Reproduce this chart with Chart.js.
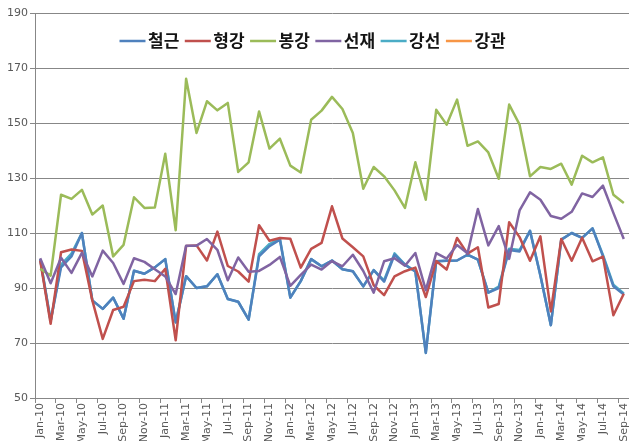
<!DOCTYPE html>
<html>
<head>
<meta charset="utf-8">
<script src="https://cdn.jsdelivr.net/npm/chart.js@4.4.1/dist/chart.umd.min.js"></script>
<style>
html,body{margin:0;padding:0;background:#ffffff;}
#wrap{width:629px;height:441px;position:relative;}
</style>
</head>
<body>
<div id="wrap"><canvas id="c" width="629" height="441"></canvas></div>
<script>
// ---- data ----
const categories = [
  'Jan-10','Feb-10','Mar-10','Apr-10','May-10','Jun-10','Jul-10','Aug-10','Sep-10','Oct-10','Nov-10','Dec-10',
  'Jan-11','Feb-11','Mar-11','Apr-11','May-11','Jun-11','Jul-11','Aug-11','Sep-11','Oct-11','Nov-11','Dec-11',
  'Jan-12','Feb-12','Mar-12','Apr-12','May-12','Jun-12','Jul-12','Aug-12','Sep-12','Oct-12','Nov-12','Dec-12',
  'Jan-13','Feb-13','Mar-13','Apr-13','May-13','Jun-13','Jul-13','Aug-13','Sep-13','Oct-13','Nov-13','Dec-13',
  'Jan-14','Feb-14','Mar-14','Apr-14','May-14','Jun-14','Jul-14','Aug-14','Sep-14'
];
const seriesNames = ['철근','형강','봉강','선재','강선','강관'];

const rebar = [100.5,78,97.5,101.5,110,85.5,82.4,86.5,78.8,96.3,95.2,97.5,
  100.5,77.5,94.3,90,90.6,95,86,85,78.5,101.5,105.2,107.6,
  86.5,92.5,100.5,97.9,100,96.8,96.1,90.6,96.5,92.3,102.1,98.5,
  96,66.4,99.7,99.9,100,102.1,100.3,88.3,90,103.8,103.3,110.8,
  94.5,76.5,107.6,110,108.2,111.7,101.6,90.6,87.6];
const sections = [100,77,103,104,103.5,85.5,71.5,82,83.2,92.5,93,92.5,
  97,71,105.3,105.5,100,110.5,98,96,92.3,112.8,107.2,108.2,
  107.9,97.4,104.2,106.4,119.7,108,104.8,101.5,91,87.4,94.2,96.1,
  97.4,86.7,99.8,96.7,108.2,102.5,104.8,82.9,84.2,113.9,108.5,99.9,
  108.8,81.5,107.8,99.9,108.3,99.7,101.4,80.1,87.9];
const bars = [97,94.5,123.9,122.4,125.7,116.7,120,101.5,105.7,123,119.1,119.3,
  138.8,111,166.1,146.4,157.9,154.6,157.3,132.2,135.7,154.2,140.7,144.3,
  134.5,132,151.2,154.5,159.5,155.1,146.4,126.1,134,130.6,125.5,119.1,
  135.7,122.1,154.8,149.4,158.5,141.7,143.3,139.3,129.7,156.7,149.4,130.6,
  134,133.3,135.2,127.6,138.1,135.7,137.5,123.9,120.9];
const wireRod = [100.8,91.7,101,95.5,102.8,94.2,103.6,99.1,91.5,100.8,99.5,96.8,
  94.2,87.8,105.4,105.4,107.8,103.9,92.8,101.1,95.9,96.2,98.4,101.3,
  90.8,94.8,98.5,96.7,99.8,97.9,102.1,96.2,88.3,99.7,100.8,98.1,
  102.7,89.2,102.7,100.7,105.6,102.6,118.7,105.5,112.5,100.6,118.2,124.8,
  122.1,116.2,115.2,117.7,124.4,123.1,127.2,117.3,107.8];
const steelWire = [100.5,78,98.5,102.5,110,85.5,82.4,86.5,78.8,96.3,95.2,97.5,
  100.5,77.5,94.3,90,90.6,95,86,85,78.5,102.3,106,108,
  86.5,92.5,100.5,97.9,100,96.8,96.1,90.6,96.5,92.8,102.6,98.5,
  96,66.4,99.7,99.9,100,102.1,100.3,88.3,90.5,104.3,103.8,110.8,
  94.5,76.5,107.6,110,108.2,111.7,102,91.2,88];
const steelPipe = [];

const yTicks = [50,70,90,110,130,150,170,190];

// ---- style ----
const colors = ['#4F81BD','#C0504D','#9BBB59','#8064A2','#4BACC6','#F79646'];
const drawOrder = [5,4,3,2,6,1];
const seriesData = [rebar, sections, bars, wireRod, steelWire, steelPipe];
const gridColor = '#878787';
const tickFont = {family: '"DejaVu Sans", sans-serif', size: 11};

const legendPlugin = {
  id: 'excelLegend',
  beforeDatasetsDraw(chart) {
    const ctx = chart.ctx;
    ctx.save();
    ctx.font = 'bold 17px "Noto Sans CJK KR", sans-serif';
    ctx.textBaseline = 'middle';
    ctx.textAlign = 'left';
    let x = 119.5;
    const y = 41;
    chart.data.datasets.forEach(ds => {
      ctx.strokeStyle = ds.borderColor;
      ctx.lineWidth = 2.5;
      ctx.beginPath();
      ctx.moveTo(x, y);
      ctx.lineTo(x + 26, y);
      ctx.stroke();
      ctx.fillStyle = '#141414';
      ctx.fillText(ds.label, x + 28.5, y);
      x += 28.5 + ctx.measureText(ds.label).width + 5.5;
    });
    ctx.restore();
  }
};

new Chart(document.getElementById('c'), {
  type: 'line',
  data: {
    labels: categories,
    datasets: seriesNames.map((name, k) => ({
      label: name,
      data: seriesData[k],
      borderColor: colors[k],
      backgroundColor: colors[k],
      borderWidth: 2.5,
      pointRadius: 0,
      pointHoverRadius: 0,
      tension: 0,
      fill: false,
      borderJoinStyle: 'round',
      order: drawOrder[k]
    }))
  },
  options: {
    responsive: false,
    animation: false,
    devicePixelRatio: 1,
    layout: {padding: {top: 13, left: 0, right: 0, bottom: 0}},
    plugins: {legend: {display: false}, tooltip: {enabled: false}},
    scales: {
      x: {
        type: 'category',
        offset: true,
        grid: {
          offset: true,
          drawOnChartArea: false,
          drawTicks: true,
          tickLength: 5,
          color: c => (c.index % 2 === 0 ? gridColor : 'rgba(0,0,0,0)')
        },
        border: {display: true, color: gridColor, width: 1},
        ticks: {
          autoSkip: false,
          minRotation: 90,
          maxRotation: 90,
          padding: 0,
          font: tickFont,
          color: '#595959',
          callback: function (val, idx) { return idx % 2 === 0 ? this.getLabelForValue(val) : ''; }
        },
        afterFit: s => { s.height = 43; s.paddingLeft = 0; s.paddingRight = 0; }
      },
      y: {
        min: 50,
        max: 190,
        afterBuildTicks: s => { s.ticks = yTicks.map(v => ({value: v})); },
        grid: {color: gridColor, tickLength: 5, drawTicks: true},
        border: {display: true, color: gridColor, width: 1},
        ticks: {padding: 2, font: tickFont, color: '#595959'},
        afterFit: s => { s.width = 35; }
      }
    }
  },
  plugins: [legendPlugin]
});
</script>
</body>
</html>
